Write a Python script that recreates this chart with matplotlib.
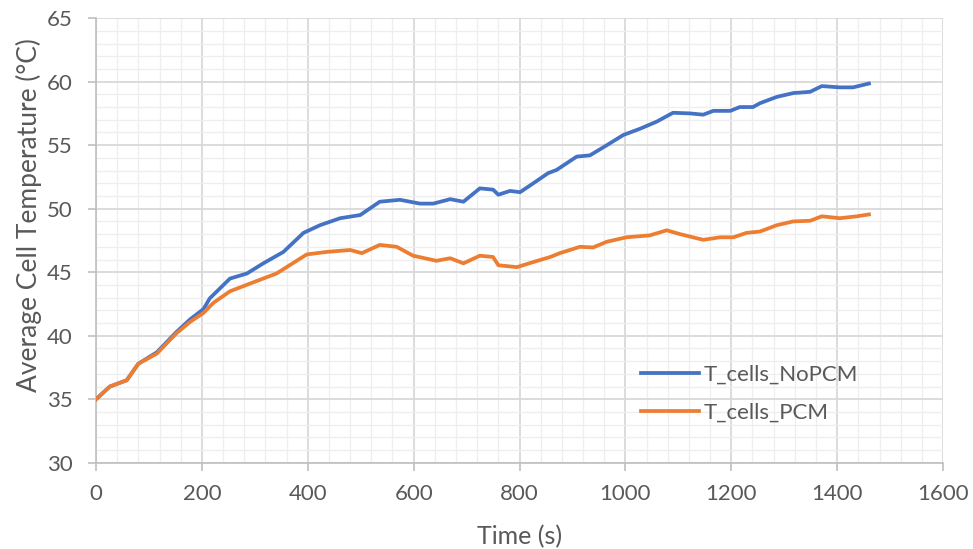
import matplotlib
matplotlib.use('Agg')
import matplotlib.pyplot as plt
from matplotlib.ticker import MultipleLocator

# cell temperature readings, without and with phase change material
time_nopcm = [0, 26, 58, 80, 115, 152, 178, 203, 215, 253, 285, 316, 354, 392,
              423, 461, 499, 536, 574, 612, 637, 669, 694, 725, 750, 760, 782,
              801, 826, 854, 870, 908, 933, 965, 996, 1028, 1059, 1090, 1122,
              1147, 1166, 1198, 1216, 1241, 1254, 1286, 1317, 1349, 1371, 1405,
              1430, 1460]
temp_nopcm = [35.0, 36.0, 36.5, 37.8, 38.7, 40.3, 41.3, 42.1, 42.95, 44.5, 44.9,
              45.7, 46.6, 48.1, 48.7, 49.25, 49.5, 50.55, 50.7, 50.4, 50.4, 50.75,
              50.55, 51.6, 51.5, 51.1, 51.4, 51.3, 52.0, 52.8, 53.05, 54.1, 54.2,
              55.0, 55.8, 56.3, 56.85, 57.55, 57.5, 57.4, 57.7, 57.7, 58.0, 58.0,
              58.3, 58.8, 59.1, 59.2, 59.65, 59.55, 59.55, 59.85]

time_pcm = [0, 26, 58, 80, 115, 152, 178, 203, 222, 253, 303, 341, 398, 436,
            480, 502, 536, 568, 599, 643, 669, 694, 725, 750, 760, 795, 826,
            858, 876, 914, 939, 965, 1002, 1046, 1078, 1103, 1147, 1179, 1204,
            1229, 1254, 1286, 1317, 1349, 1371, 1405, 1437, 1460]
temp_pcm = [35.0, 36.0, 36.5, 37.8, 38.6, 40.2, 41.1, 41.8, 42.6, 43.5, 44.3,
            44.9, 46.4, 46.6, 46.75, 46.5, 47.15, 47.0, 46.3, 45.9, 46.1, 45.7,
            46.3, 46.2, 45.55, 45.4, 45.8, 46.2, 46.5, 47.0, 46.95, 47.4, 47.75,
            47.9, 48.3, 48.0, 47.55, 47.75, 47.75, 48.1, 48.2, 48.7, 49.0, 49.05,
            49.4, 49.25, 49.4, 49.55]

txt = '#595959'
plt.rcParams['font.family'] = ['Lato', 'DejaVu Sans']

fig = plt.figure(figsize=(9.73, 5.49), dpi=100)
ax = fig.add_axes([0.0987, 0.157, 0.8705, 0.81])

ax.plot(time_nopcm, temp_nopcm, color='#4472C4', lw=2.7, label='T_cells_NoPCM', zorder=3)
ax.plot(time_pcm, temp_pcm, color='#ED7D31', lw=2.7, label='T_cells_PCM', zorder=3)

ax.set_xlim(0, 1600)
ax.set_ylim(30, 65)
ax.xaxis.set_major_locator(MultipleLocator(200))
ax.xaxis.set_minor_locator(MultipleLocator(40))
ax.yaxis.set_major_locator(MultipleLocator(5))
ax.yaxis.set_minor_locator(MultipleLocator(1))

ax.grid(which='major', color='#D9D9D9', lw=1.3, zorder=1)
ax.grid(which='minor', color='#EEEEEE', lw=0.9, zorder=0)
ax.set_axisbelow(True)

for side in ['top', 'right']:
    ax.spines[side].set_visible(False)
for side in ['left', 'bottom']:
    ax.spines[side].set_color('#BFBFBF')
    ax.spines[side].set_linewidth(1.2)

ax.tick_params(which='major', length=6, width=1.2, color='#BFBFBF',
               labelsize=16, labelcolor=txt)
ax.tick_params(axis='y', which='major', pad=11)
ax.tick_params(axis='x', which='major', pad=9)
ax.tick_params(which='minor', length=0)

ax.set_xlabel('Time (s)', fontsize=18, color=txt)
ax.set_ylabel('Average Cell Temperature (°C)', fontsize=19, color=txt)
ax.xaxis.set_label_coords(0.5, -0.14)
ax.yaxis.set_label_coords(-0.064, 0.557)

leg = ax.legend(loc='upper left', bbox_to_anchor=(0.633, 0.24), frameon=False,
                fontsize=16, handlelength=2.6, handletextpad=0.2,
                labelspacing=0.8, borderaxespad=0)
for t in leg.get_texts():
    t.set_color(txt)

plt.savefig('out.png', dpi=100)
